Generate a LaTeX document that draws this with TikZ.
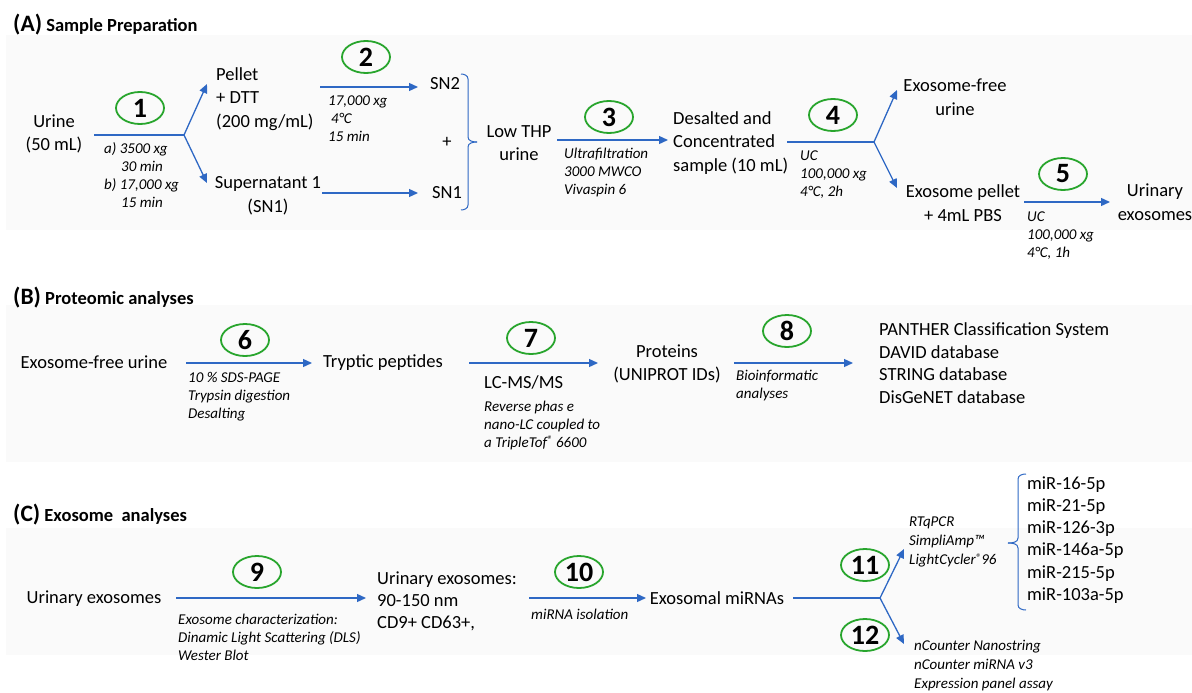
\documentclass[tikz,border=0pt]{standalone}
\usepackage{fontspec}
\setmainfont{Carlito}
\usetikzlibrary{arrows.meta,shapes.geometric}
\definecolor{arrblue}{RGB}{46,104,196}
\definecolor{cgreen}{RGB}{40,165,45}
\definecolor{bandgray}{RGB}{250,250,250}
\newcommand{\regmk}{{\fontsize{11}{11}\selectfont\raisebox{3.5pt}{®}}}
\begin{document}
\begin{tikzpicture}[x=1pt,y=-1pt,
  txt/.style={inner sep=0pt,align=center,font=\fontsize{18.5}{23.5}\selectfont},
  txtl/.style={txt,align=left,anchor=west},
  lab/.style={inner sep=0pt,align=left,anchor=west,font=\fontsize{15}{18}\selectfont\itshape},
  numc/.style={ellipse,draw=cgreen,line width=1.8pt,minimum width=48pt,minimum height=32pt,inner sep=0pt,font=\fontsize{28}{28}\selectfont\bfseries},
  arr/.style={draw=arrblue,line width=1.3pt,-{Triangle[length=9pt,width=8pt]}},
  ln/.style={draw=arrblue,line width=1.3pt},
  brc/.style={draw=arrblue,line width=1pt},
  hdr/.style={inner sep=0pt,anchor=west,font=\fontsize{18.5}{22}\selectfont\bfseries}]
\useasboundingbox (0,0) rectangle (1192,693);
% background bands
\fill[bandgray] (6,35) rectangle (1192,230);
\fill[bandgray] (6,305) rectangle (1192,462);
\fill[bandgray] (6,528) rectangle (1192,655);

% ---------- (A) ----------
\node[hdr] (hA) at (13,25) {{\fontsize{23.5}{24}\selectfont (A)} Sample Preparation};
\node[txt] (urine) at (54,134) {Urine\\(50 mL)};
\node[numc] (c1) at (140,108) {1};
\coordinate (s1) at (94,135); \coordinate (j1) at (184,135);
\coordinate (t1u) at (207,84); \coordinate (t1d) at (207,183);
\draw[ln] (s1) -- (j1);
\draw[arr] (j1) -- (t1u);
\draw[arr] (j1) -- (t1d);
\node[lab] (l1) at (104,175) {a) 3500 xg\\\hspace*{17pt}30 min\\b) 17,000 xg\\\hspace*{17pt}15 min};
\node[txtl] (pel) at (216,99) {Pellet\\+ DTT\\(200 mg/mL)};
\node[txt] (sup) at (268,196) {Supernatant 1\\(SN1)};

\node[numc] (c2) at (366,57) {2};
\coordinate (s2) at (320,87); \coordinate (t2) at (418,87);
\draw[arr] (s2) -- (t2);
\node[lab] (l2) at (328,119) {17,000 xg\\\hspace*{3pt}4°C\\15 min};
\node[txt] (sn2) at (445,84) {SN2};
\node[txt] (plus) at (447,142) {+};
\node[txt] (sn1) at (447,193) {SN1};
\coordinate (s2b) at (322,193); \coordinate (t2b) at (418,193);
\draw[arr] (s2b) -- (t2b);
\draw[brc] (461,74) to[out=0,in=90] (468,79) -- (468,137) to[out=-90,in=180] (477,142);
\draw[brc] (461,210) to[out=0,in=-90] (468,205) -- (468,147) to[out=90,in=180] (477,142);

\node[txt] (lthp) at (519,143) {Low THP\\urine};
\node[numc] (c3) at (609,117) {3};
\coordinate (s3) at (557,140); \coordinate (t3) at (668,140);
\draw[arr] (s3) -- (t3);
\node[lab] (l3) at (564,173) {Ultrafiltration\\3000 MWCO\\Vivaspin 6};
\node[txtl] (desal) at (673,143) {Desalted and\\Concentrated\\sample (10 mL)};

\node[numc] (c4) at (833,115) {4};
\coordinate (s4) at (787,142); \coordinate (j4) at (874,142);
\coordinate (t4u) at (897,90); \coordinate (t4d) at (897,188);
\draw[ln] (s4) -- (j4);
\draw[arr] (j4) -- (t4u);
\draw[arr] (j4) -- (t4d);
\node[lab] (l4) at (800,175) {UC\\100,000 xg\\4°C, 2h};
\node[txt] (exfree) at (955,97) {Exosome-free\\urine};
\node[txt] (expel) at (963,203) {Exosome pellet\\+ 4mL PBS};

\node[numc] (c5) at (1063,174) {5};
\coordinate (s5) at (1024,202); \coordinate (t5) at (1110,202);
\draw[arr] (s5) -- (t5);
\node[lab] (l5) at (1027,236) {UC\\100,000 xg\\4°C, 1h};
\node[txt] (uex) at (1155,202) {Urinary\\exosomes};

% ---------- (B) ----------
\node[hdr] (hB) at (13,298) {{\fontsize{23.5}{24}\selectfont (B)} Proteomic analyses};
\node[txt] (efu) at (94,362) {Exosome-free urine};
\node[numc] (c6) at (245,340) {6};
\coordinate (s6) at (186,363); \coordinate (t6) at (312,363);
\draw[arr] (s6) -- (t6);
\node[lab] (l6) at (188,397) {10 \% SDS-PAGE\\Trypsin digestion\\Desalting};
\node[txt] (tryp) at (383,363) {Tryptic peptides};

\node[numc] (c7) at (531,338) {7};
\coordinate (s7) at (469,363); \coordinate (t7) at (598,363);
\draw[arr] (s7) -- (t7);
\node[txtl] (lcms) at (484,382) {LC-MS/MS};
\node[lab] (l7) at (484,425) {Reverse phas e\\nano-LC coupled to\\a TripleTof\regmk\ 6600};
\node[txt] (prot) at (667,364) {Proteins\\(UNIPROT IDs)};

\node[numc] (c8) at (787,331) {8};
\coordinate (s8) at (734,363); \coordinate (t8) at (853,363);
\draw[arr] (s8) -- (t8);
\node[lab] (l8) at (736,386) {Bioinformatic\\analyses};
\node[txtl,font=\fontsize{18.5}{22.7}\selectfont] (db) at (879,363) {PANTHER Classification System\\DAVID database\\STRING database\\DisGeNET database};

% ---------- (C) ----------
\node[hdr] (hC) at (13,515) {{\fontsize{23.5}{24}\selectfont (C)} Exosome\ \ analyses};
\node[txt] (uex2) at (94,599) {Urinary exosomes};
\node[numc] (c9) at (257,572) {9};
\coordinate (s9) at (176,598); \coordinate (t9) at (366,598);
\draw[arr] (s9) -- (t9);
\node[lab] (l9) at (178,637) {Exosome characterization:\\Dinamic Light Scattering (DLS)\\Wester Blot};
\node[txtl,font=\fontsize{18.5}{22}\selectfont] (uexc) at (377,601) {Urinary exosomes:\\90-150 nm\\CD9+ CD63+,};

\node[numc] (c10) at (579,572) {10};
\coordinate (s10) at (529,598); \coordinate (t10) at (646,598);
\draw[arr] (s10) -- (t10);
\node[lab] (l10) at (531,614) {miRNA isolation};
\node[txt] (exmi) at (717,598) {Exosomal miRNAs};

\coordinate (s11) at (793,598); \coordinate (j11) at (880,598);
\coordinate (t11) at (904,549); \coordinate (t12) at (904,644);
\draw[ln] (s11) -- (j11);
\draw[arr] (j11) -- (t11);
\draw[arr] (j11) -- (t12);
\node[numc] (c11) at (865,565) {11};
\node[numc] (c12) at (865,635) {12};
\node[lab,font=\fontsize{15}{19}\selectfont\itshape] (l11) at (909,542) {RTqPCR\\SimpliAmp™\\LightCycler\regmk96};
\node[lab,font=\fontsize{15}{19}\selectfont\itshape] (l12) at (914,666) {nCounter Nanostring\\nCounter miRNA v3\\Expression panel assay};
\draw[brc] (1026,474) to[out=180,in=90] (1018,479) -- (1018,538) to[out=-90,in=0] (1008,543);
\draw[brc] (1026,610) to[out=180,in=-90] (1018,605) -- (1018,548) to[out=90,in=0] (1008,543);
\node[txtl,font=\fontsize{18.5}{22.2}\selectfont] (mir) at (1027,540) {miR-16-5p\\miR-21-5p\\miR-126-3p\\miR-146a-5p\\miR-215-5p\\miR-103a-5p};
\end{tikzpicture}
\end{document}
